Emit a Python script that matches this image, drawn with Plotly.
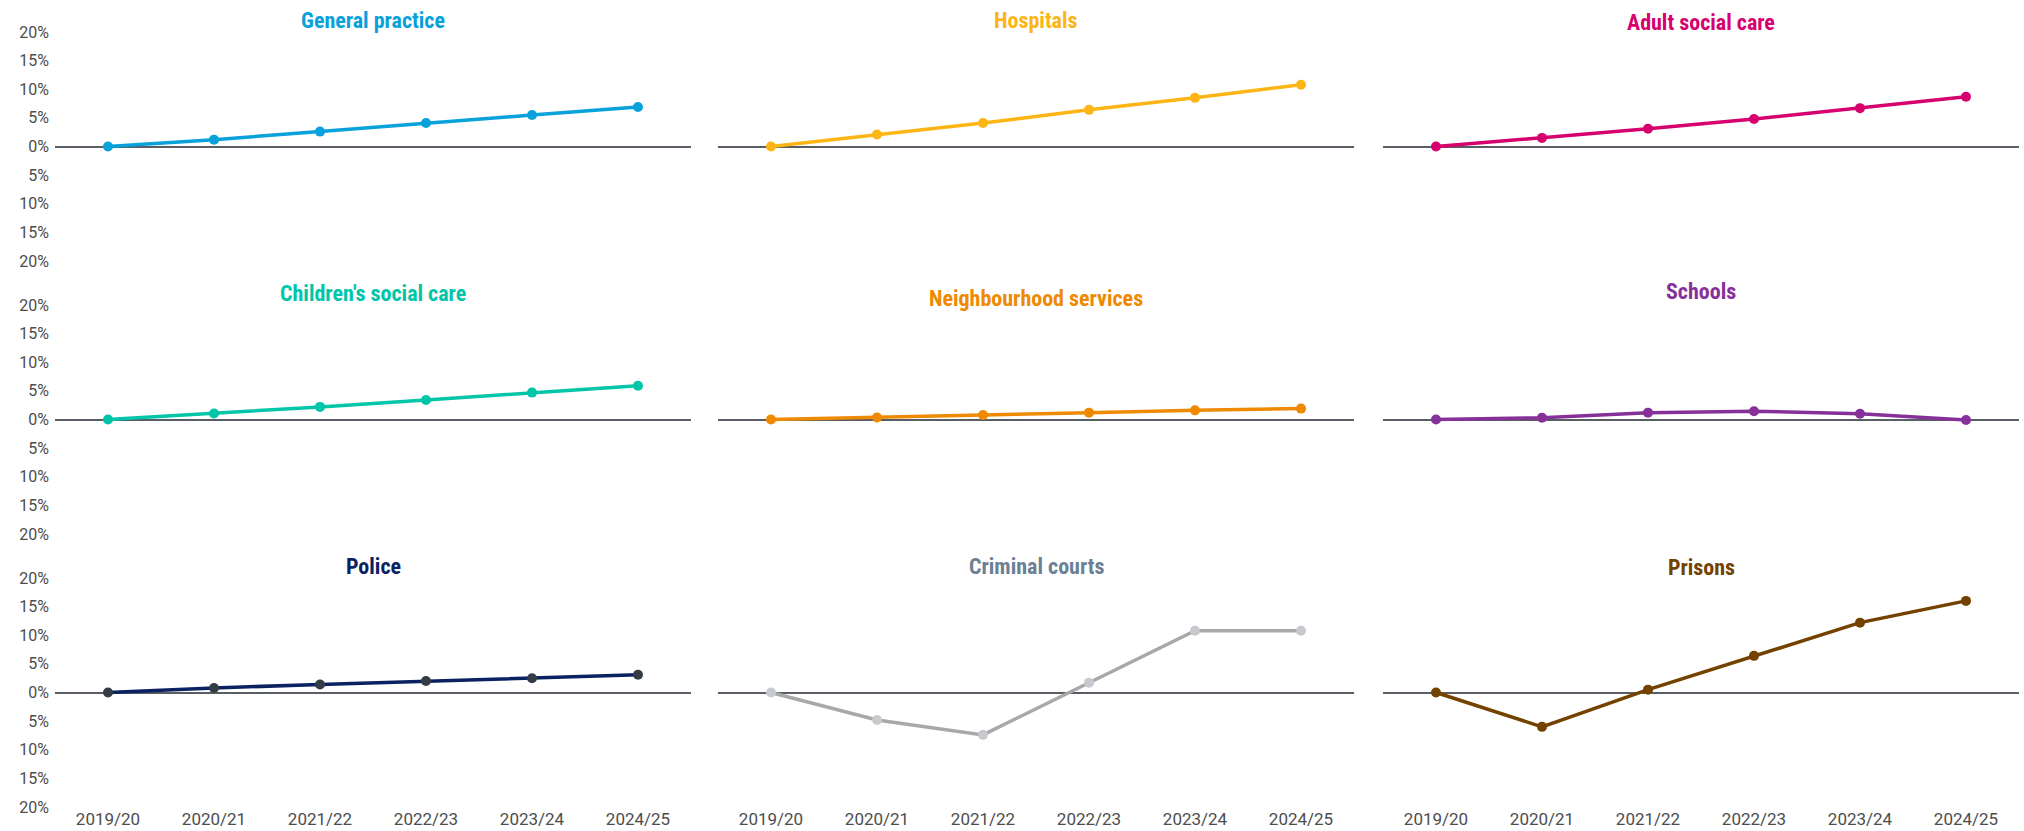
import plotly.graph_objects as go

# ---- data ----
years = ["2019/20", "2020/21", "2021/22", "2022/23", "2023/24", "2024/25"]

general_practice = [0, 1.2, 2.6, 4.1, 5.5, 6.9]
hospitals = [0, 2.1, 4.1, 6.4, 8.5, 10.8]
adult_social_care = [0, 1.5, 3.1, 4.8, 6.7, 8.7]
childrens_social_care = [0, 1.05, 2.2, 3.4, 4.7, 5.9]
neighbourhood_services = [0, 0.35, 0.8, 1.2, 1.6, 1.9]
schools = [0, 0.3, 1.2, 1.45, 1.0, -0.1]
police = [0, 0.8, 1.4, 2.0, 2.5, 3.1]
criminal_courts = [0, -4.8, -7.4, 1.7, 10.8, 10.8]
prisons = [0, -6.0, 0.5, 6.4, 12.2, 16.0]

panel_titles = [
    "General practice", "Hospitals", "Adult social care",
    "Children's social care", "Neighbourhood services", "Schools",
    "Police", "Criminal courts", "Prisons",
]
panel_values = [
    general_practice, hospitals, adult_social_care,
    childrens_social_care, neighbourhood_services, schools,
    police, criminal_courts, prisons,
]

y_tick_values = [20, 15, 10, 5, 0, -5, -10, -15, -20]
y_tick_labels = ["20%", "15%", "10%", "5%", "0%", "5%", "10%", "15%", "20%"]

# ---- styles ----
line_colors = ["#07A1DC", "#FDB515", "#D6006F",
               "#00C5A8", "#EE8900", "#86309A",
               "#0B2262", "#A8A8A8", "#744200"]
marker_colors = ["#07A1DC", "#FDB515", "#D6006F",
                 "#00C5A8", "#EE8900", "#86309A",
                 "#343D47", "#C6CACE", "#744200"]
title_colors = ["#07A1DC", "#FDB515", "#D6006F",
                "#00C5A8", "#EE8900", "#86309A",
                "#0B2262", "#6B8093", "#744200"]

W, H = 2024, 831
x_px = [(55, 691), (718, 1354), (1383, 2019)]
y_px = [(32, 261), (305, 534), (578, 807)]
title_y_px = [[20, 20, 22.5], [293, 299, 292], [566, 566, 567]]

Y_TICK_FONT = dict(family="Roboto, 'Noto Sans', sans-serif", size=16, color="#4d4d4d")
X_TICK_FONT = dict(family="Roboto, 'Noto Sans', sans-serif", size=17, color="#4d4d4d")
TITLE_FONT_FAMILY = "'Liberation Sans Narrow', 'Roboto Condensed', Roboto, sans-serif"

fig = go.Figure()
layout = dict(
    width=W, height=H,
    margin=dict(l=0, r=0, t=0, b=0),
    paper_bgcolor="white", plot_bgcolor="white",
    showlegend=False,
    font=dict(family="Roboto, sans-serif"),
)
annotations = []

for i in range(9):
    r, c = divmod(i, 3)
    n = "" if i == 0 else str(i + 1)
    fig.add_trace(go.Scatter(
        x=years, y=panel_values[i],
        mode="lines+markers",
        line=dict(color=line_colors[i], width=3.5),
        marker=dict(color=marker_colors[i], size=10),
        xaxis="x" + n, yaxis="y" + n,
        hoverinfo="x+y",
    ))
    x0, x1 = x_px[c]
    ytop, ybot = y_px[r]
    layout["xaxis" + n] = dict(
        domain=[x0 / W, x1 / W],
        anchor="y" + n,
        type="category",
        range=[-0.5, 5.5],
        showgrid=False, zeroline=False, showline=False,
        ticks="",
        showticklabels=(r == 2),
        tickfont=X_TICK_FONT,
        automargin=False,
    )
    layout["yaxis" + n] = dict(
        domain=[1 - ybot / H, 1 - ytop / H],
        anchor="x" + n,
        range=[-20, 20],
        tickvals=y_tick_values,
        ticktext=y_tick_labels,
        showticklabels=(c == 0),
        tickfont=Y_TICK_FONT,
        ticklabelstandoff=5,
        showgrid=False, showline=False,
        zeroline=True, zerolinecolor="#585E64", zerolinewidth=1.5,
        ticks="",
        automargin=False,
    )
    annotations.append(dict(
        text="<b>%s</b>" % panel_titles[i],
        xref="paper", yref="paper",
        x=(x0 + x1) / 2 / W, y=1 - title_y_px[r][c] / H,
        xanchor="center", yanchor="middle",
        showarrow=False,
        font=dict(family=TITLE_FONT_FAMILY, size=22, color=title_colors[i]),
    ))

layout["annotations"] = annotations
fig.update_layout(**layout)

fig.write_html("out.html", config={"displayModeBar": False},
               post_script="document.body.style.margin='0';")
